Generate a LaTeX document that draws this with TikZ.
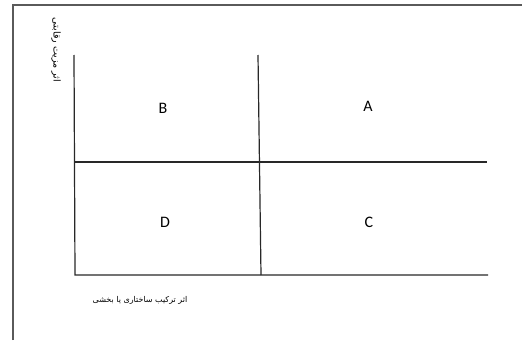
\documentclass[tikz,border=0pt]{standalone}
\usepackage{fontspec}
\setmainfont{Carlito}
\newfontfamily\arabicfont[Script=Arabic]{DejaVu Sans}
\TeXXeTstate=1
\usetikzlibrary{positioning,calc}
\definecolor{borda}{RGB}{90,90,90}
\definecolor{eixo}{RGB}{40,40,40}

\begin{document}
\begin{tikzpicture}[x=1pt,y=-1pt,
    quadro/.style={draw=borda,line width=1.4pt},
    eixo/.style={draw=eixo,line width=1.2pt},
    letra/.style={font=\fontsize{16}{19}\selectfont,inner sep=0pt},
    rotulo/.style={font=\arabicfont\fontsize{8}{10}\selectfont,inner sep=1pt}]
  \useasboundingbox (0,0) rectangle (522,340);
  % moldura
  \coordinate (m0) at (13,5);
  \coordinate (m1) at (522,5);
  \coordinate (m2) at (13,340);
  \draw[quadro] (m2) -- (m0) -- (m1);
  % eixos e divisoes
  \coordinate (o) at (75,275);
  \coordinate (yt) at (74,55);
  \coordinate (xr) at (488,275);
  \coordinate (vt) at (258,55);
  \coordinate (vb) at (261,275);
  \coordinate (hl) at (75,162);
  \coordinate (hr) at (487,162);
  \draw[eixo] (yt) -- (o) -- (xr);
  \draw[eixo] (vt) -- (vb);
  \draw[eixo] (hl) -- (hr);
  % quadrantes
  \node[letra] (B) at (163,108) {B};
  \node[letra] (A) at (368,106) {A};
  \node[letra] (D) at (165,222) {D};
  \node[letra] (C) at (369,222) {C};
  % rotulos dos eixos
  \node[rotulo,font=\arabicfont\fontsize{9.5}{11}\selectfont,rotate=-90] (ly) at (56,50) {\beginR اثر مزیت رقابتی\endR};
  \node[rotulo] (lx) at (140,300) {\beginR اثر ترکیب ساختاری یا بخشی\endR};
\end{tikzpicture}
\end{document}
